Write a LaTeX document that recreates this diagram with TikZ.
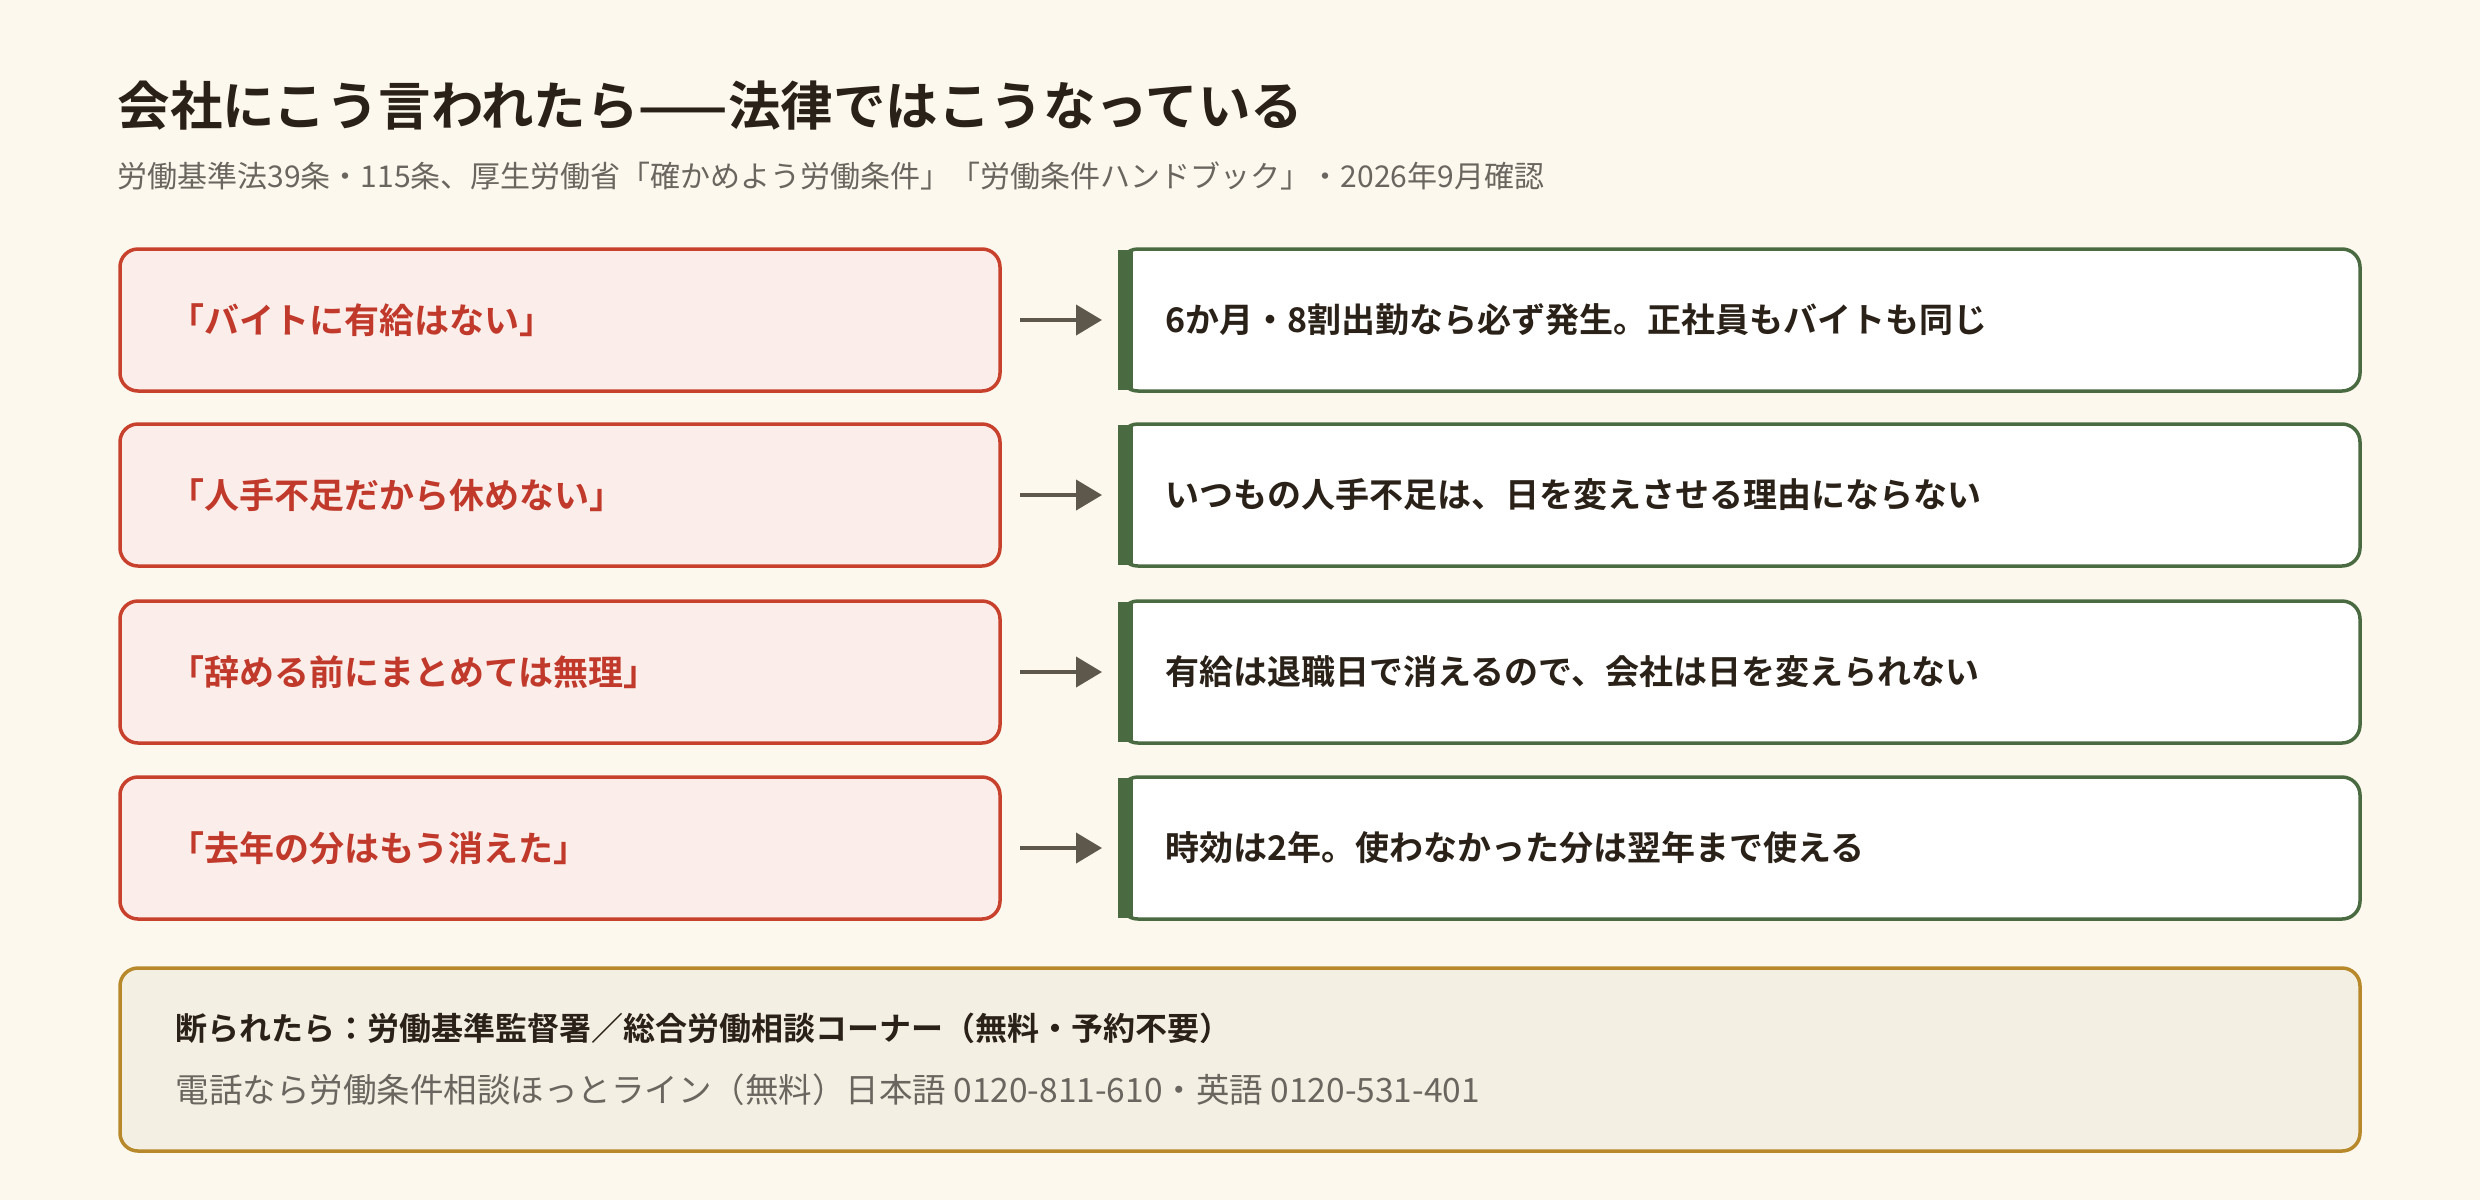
\documentclass[tikz,border=0pt]{standalone}
\usepackage{fontspec}
\setmainfont{Noto Sans CJK JP}
\newfontfamily\jpb{Noto Sans CJK JP Bold}
\usetikzlibrary{arrows.meta}
\definecolor{bg}{HTML}{FCF8EE}
\definecolor{redb}{HTML}{C8412D}
\definecolor{redf}{HTML}{FBEDE9}
\definecolor{redt}{HTML}{C0392B}
\definecolor{grn}{HTML}{4A6B42}
\definecolor{arr}{HTML}{5E574C}
\definecolor{botf}{HTML}{F3EFE3}
\definecolor{botb}{HTML}{B8892A}
\definecolor{ink}{HTML}{2A2118}
\definecolor{gry}{HTML}{6A655E}
\begin{document}
\begin{tikzpicture}[x=1pt,y=-1pt,
  myth/.style={draw=redb,line width=3.5pt,fill=redf,rounded corners=18pt},
  fact/.style={draw=grn,line width=3.5pt,fill=white,rounded corners=18pt},
  mtext/.style={anchor=west,text=redt,font=\jpb\fontsize{35}{40}\selectfont},
  ftext/.style={anchor=west,text=ink,font=\jpb\fontsize{34}{40}\selectfont},
  conn/.style={arr,line width=4pt,-{Triangle[length=26pt,width=30pt]}}]
\fill[bg] (0,0) rectangle (2480,1200);
\useasboundingbox (0,0) rectangle (2480,1200);
\node[anchor=west,text=ink,font=\jpb\fontsize{52.5}{60}\selectfont] (title) at (114,106) {会社にこう言われたら——法律ではこうなっている};
\node[anchor=west,text=gry,font=\fontsize{30}{34}\selectfont] (sub) at (114,176) {労働基準法39条・115条、厚生労働省「確かめよう労働条件」「労働条件ハンドブック」・2026年9月確認};
\foreach \i/\y/\m/\f in {
 1/320/「バイトに有給はない」/6か月・8割出勤なら必ず発生。正社員もバイトも同じ,
 2/495/「人手不足だから休めない」/いつもの人手不足は、日を変えさせる理由にならない,
 3/672/「辞める前にまとめては無理」/有給は退職日で消えるので、会社は日を変えられない,
 4/848/「去年の分はもう消えた」/時効は2年。使わなかった分は翌年まで使える}{
  \draw[myth] (120,\y-71) rectangle (1000,\y+71);
  \node[mtext] (m\i) at (166,\y) {\m};
  \coordinate (ma\i) at (1020,\y);
  \draw[fact] (1120,\y-71) rectangle (2360,\y+71);
  \fill[grn] (1118,\y-70) rectangle (1133,\y+70);
  \coordinate (fa\i) at (1102,\y);
  \node[ftext] (f\i) at (1162,\y) {\f};
  \draw[conn] (ma\i) -- (fa\i);
}
\draw[draw=botb,line width=3.5pt,fill=botf,rounded corners=18pt] (120,968) rectangle (2360,1151);
\node[anchor=west,text=ink,font=\jpb\fontsize{32}{36}\selectfont] (b1) at (172,1028) {断られたら：労働基準監督署／総合労働相談コーナー（無料・予約不要）};
\node[anchor=west,text=gry,font=\fontsize{33.5}{38}\selectfont] (b2) at (172,1090) {電話なら労働条件相談ほっとライン（無料）日本語 0120-811-610・英語 0120-531-401};
\end{tikzpicture}
\end{document}
